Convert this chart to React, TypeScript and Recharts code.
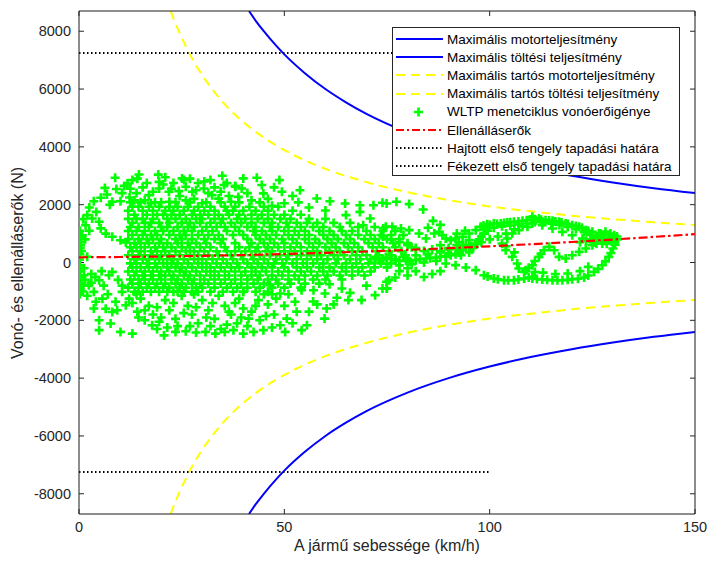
import React from 'react'
import {
  ComposedChart,
  Line,
  Scatter,
  XAxis,
  YAxis,
  CartesianGrid,
} from 'recharts'

// Maximális motorteljesítmény (km/h, N)
const maxMotorSpeed = [41.4, 43, 45, 48, 50, 55, 60, 65, 70, 80, 90, 100, 110, 120, 130, 140, 150]
const maxMotorForce = [8700, 8370, 8000, 7500, 7200, 6550, 6000, 5540, 5140, 4500, 4000, 3600, 3270, 3000, 2770, 2570, 2400]
const maxChargeForce = [-8700, -8370, -8000, -7500, -7200, -6550, -6000, -5540, -5140, -4500, -4000, -3600, -3270, -3000, -2770, -2570, -2400]

// Maximális tartós teljesítmény
const contSpeed = [22.3, 24, 26, 28, 30, 35, 40, 45, 50, 60, 70, 80, 90, 100, 110, 120, 130, 140, 150]
const contMotorForce = [8700, 8100, 7480, 6940, 6480, 5550, 4860, 4320, 3890, 3240, 2780, 2430, 2160, 1940, 1770, 1620, 1500, 1390, 1300]
const contChargeForce = [-8700, -8100, -7480, -6940, -6480, -5550, -4860, -4320, -3890, -3240, -2780, -2430, -2160, -1940, -1770, -1620, -1500, -1390, -1300]

// Ellenálláserők
const resistSpeed = [0, 10, 20, 30, 40, 50, 60, 70, 80, 90, 100, 110, 120, 130, 140, 150]
const resistForce = [180, 190, 207, 230, 258, 294, 334, 381, 435, 495, 560, 632, 710, 794, 885, 980]

// Tapadási határ
const adhesionSpeed = [0, 100]
const adhesionDrive = [7250, 7250]
const adhesionBrake = [-7250, -7250]

// WLTP: induló hurok (v, F)
const wltpStart: [number, number][] = [
  [0.2, 1100], [0.3, 900], [0.2, 700], [0.3, 500], [0.2, 300], [0.1, 100], [0.2, -100], [0.3, -300],
  [0.2, -500], [0.4, -700], [0.3, -900], [0.2, -1100], [0.8, -1000], [2, 1640], [1.6, 1290], [0.8, 945],
  [0.4, 600], [1.2, -440], [2.4, -785], [3.6, -1016], [4.9, -612], [7.3, -440], [8.1, -325], [3.2, 1520],
  [4.9, 1410], [5.3, 1180], [6.5, 1000], [8.1, 890], [10.1, 770], [11.4, 690], [4.1, -1360], [5.7, -1250],
  [8.9, -1360], [3.6, -1590], [8.1, -1710], [7.7, -2110], [4.9, -2000], [4.9, -2340], [10.1, -2400],
  [13, -2460], [9.3, -1650], [11.4, -1480], [10.5, -1016], [12.2, -1250], [14.2, -1700], [2.5, 1900],
  [4.2, 1750], [1, 1500], [1.5, -600], [3, -400], [5.5, -300], [6, -800], [9.5, -600], [10.5, -800],
  [2, 200], [1.2, -200], [6.5, -1600], [7, -1100], [1.5, 800], [2.5, 1100], [0.6, 400], [1, -800],
  [2, -1150], [3, -700], [4, -500], [6.8, 2350], [7.5, 2000], [10.5, 2400],
]

// WLTP: sűrű mag, erőszintenként a sebességek
const wltpCoreRows: [number, number[]][] = [
  [2080, [12.5, 15, 18.5, 20, 23.5, 27, 31, 34.5, 39, 44]],
  [1930, [13, 14.5, 17, 19.5, 22, 24, 26.5, 29, 32, 35.5, 38, 41.5, 45, 48.5]],
  [1790, [12, 15.5, 18, 21, 23, 25.5, 28, 30.5, 33, 36, 37.5, 40, 43, 46, 52]],
  [1650, [13.5, 16.5, 19, 20.5, 22.5, 24.5, 27.5, 29.5, 31.5, 34, 36.5, 39, 42, 44.5, 47.5, 50, 54]],
  [1510, [12, 14, 15.5, 18, 21.5, 23.5, 26, 28.5, 30, 33, 35, 38.5, 40.5, 43.5, 46, 49, 51.5, 56, 60]],
  [1370, [13, 16, 17.5, 19.5, 22, 25, 27, 29.5, 32, 34.5, 37, 39.5, 42, 45, 47, 50.5, 53, 55.5, 58, 62, 66]],
  [1230, [12.5, 14.5, 17, 20, 21.5, 24, 26.5, 28, 31, 33.5, 35.5, 38, 41, 43, 46.5, 48.5, 51, 54, 57, 59.5, 63.5, 68, 72]],
  [1090, [12, 14, 16, 18.5, 20.5, 23, 25.5, 27.5, 30, 32.5, 36, 39, 42.5, 44.5, 47, 50, 52.5, 55, 58.5, 61, 64, 66.5, 70, 74, 77]],
  [950, [13, 15.5, 17.5, 19, 22, 24.5, 26, 29, 31.5, 34, 37.5, 40, 43, 45.5, 48, 51, 53.5, 56, 59.5, 62, 65, 68, 71, 73.5, 76, 79]],
  [810, [12, 14.5, 16.5, 18, 20, 23.5, 25, 27.5, 30.5, 33, 35, 41, 44, 46.5, 49.5, 52, 55, 57.5, 60.5, 63, 66, 69.5, 72, 75, 78]],
  [670, [13.5, 15, 17, 19.5, 21.5, 24, 26.5, 28.5, 31, 34.5, 38, 42, 45, 47.5, 50, 53, 56, 58.5, 61.5, 64.5, 67, 70.5, 73, 76.5, 80]],
  [530, [12.5, 14, 16, 18.5, 20.5, 22.5, 25, 27, 29.5, 32, 35.5, 39, 41.5, 43.5, 46, 48.5, 51.5, 54, 57, 60, 62.5, 65.5, 68, 71.5, 74, 77, 81]],
  [390, [13, 15, 17.5, 19, 21, 23.5, 26, 28, 30.5, 33.5, 36, 38, 40.5, 43, 45.5, 47, 50, 52.5, 55.5, 58, 61, 63.5, 66.5, 69, 72.5, 75.5, 78.5]],
  [250, [12, 14.5, 16, 18, 20, 22, 24.5, 27, 29, 31.5, 34, 37, 39.5, 42, 44, 46.5, 49, 51, 54, 56.5, 59, 62, 64.5, 67.5, 70, 73, 76, 79.5]],
  [110, [13.5, 15.5, 17, 19.5, 21.5, 23, 25.5, 28, 30, 32.5, 35, 37.5, 40, 42.5, 45, 48, 50.5, 53, 55.5, 58, 60.5, 63, 66, 68.5, 71, 74, 77, 80]],
  [-30, [12.5, 14, 16.5, 18.5, 20.5, 22.5, 24, 26.5, 29, 31, 33.5, 36, 38.5, 41, 43.5, 46, 47.5, 49.5, 52, 54.5, 57, 59.5, 62.5, 65, 67.5, 70.5, 73.5, 76]],
  [-170, [13, 15, 17, 19, 21.5, 23.5, 25, 27.5, 30, 32, 34.5, 37, 39, 42, 44.5, 47, 50, 53, 55.5, 58.5, 61, 64, 66.5, 69, 72, 75]],
  [-310, [12, 14, 16, 18, 20, 22, 24.5, 26, 28.5, 31, 33, 35.5, 38, 40.5, 43, 45.5, 48.5, 51, 54, 56.5, 59.5, 62, 65, 68, 71]],
  [-450, [13.5, 15.5, 17.5, 19.5, 21, 23, 25.5, 27, 29.5, 32, 34, 36.5, 39.5, 42, 44, 47, 49.5, 52.5, 55, 58, 60.5, 63.5, 66.5, 69.5]],
  [-590, [12.5, 14.5, 16, 18, 20, 22.5, 24, 26.5, 28, 30.5, 33, 35.5, 38, 41, 43.5, 46, 48, 51, 53.5, 57, 60, 64]],
  [-730, [13, 15, 17, 19, 21, 23.5, 25, 27.5, 29.5, 31.5, 34.5, 37, 39.5, 42.5, 45, 48.5, 51.5, 55, 58.5]],
  [-870, [12, 14.5, 16.5, 18.5, 20.5, 22, 24.5, 26, 28.5, 30, 33, 36, 38.5, 41, 44, 47, 50, 54]],
  [-1010, [13.5, 15.5, 17.5, 19.5, 21.5, 23, 25.5, 27.5, 29, 32, 35, 37.5, 40, 43, 46]],
]

// WLTP: szórt pontok felül
const wltpUpper: [number, number][] = [
  [8.8, 2930], [11.8, 2735], [13, 2850], [14.6, 3046], [14.2, 2900], [19.3, 3040], [19.5, 2790], [25.1, 2910],
  [25.6, 2850], [34.9, 3000], [38.1, 2620], [35.3, 2680], [6.3, 2580], [9.1, 2540], [3.6, 2120], [5.3, 2240],
  [8.1, 2100], [10.1, 2120], [12.3, 2250], [17, 2330], [19.5, 2560], [21.9, 2450], [24.3, 2470], [27.6, 2450],
  [30.4, 2560], [32.4, 2330], [34, 2210], [36.5, 2300], [40, 2910], [43.3, 2930], [38, 2650], [39.6, 2560],
  [38.8, 2270], [44.5, 2680], [44.9, 2390], [48.8, 2850], [49.4, 2450], [53.8, 2500], [53.4, 2080],
  [57.9, 2215], [61.1, 2120], [64.8, 2040], [68.4, 1980], [71.7, 1980], [74.9, 2040], [68.4, 1750],
  [16, 2150], [22, 2100], [28, 2200], [30, 2050], [26, 2620], [29, 2750], [31.5, 2400], [42, 2150],
  [46, 2200], [50, 2050], [15.5, 2600], [18, 2450], [23, 2750], [47, 1960], [56, 1900], [60, 1800],
  [65, 1640], [70.9, 1520], [69.2, 1290], [74.1, 1180], [73.9, 2065], [77.3, 2100], [80.4, 2020],
  [83.8, 1835], [86.2, 1440], [11, 2650], [20.5, 2700], [32, 2850], [36, 2750], [14, 2400], [16.5, 2750],
  [21, 2950], [22.5, 2550], [24.5, 2300], [27, 2900], [28.5, 2500], [30.5, 2800], [33, 2600], [34.5, 2450],
  [37, 2100], [13.5, 2150], [17.5, 2050], [26, 2150], [12.5, 2550], [41, 2400], [47.5, 2600], [52, 2300],
]

// WLTP: szórt pontok alul
const wltpLower: [number, number][] = [
  [17.8, -2170], [19.5, -2050], [20.7, -2520], [23.5, -2400], [26, -2380], [28.5, -2420], [30.8, -2400],
  [33.2, -2460], [35.5, -2400], [37.6, -2340], [40, -2460], [42.5, -2400], [44.9, -2340], [49, -2170],
  [50.2, -2400], [50.6, -1940], [54.2, -2340], [55.5, -2170], [59.8, -1940], [60.3, -1590], [52.6, -1360],
  [54.2, -960], [57.1, -960], [59.9, -1070], [62.8, -1220], [65.6, -1300], [68.8, -1300], [72.1, -1130],
  [74.9, -900], [74.9, -670], [40, -1016], [46.5, -785], [49, -1070], [41.3, -1940], [40, -1590],
  [43.7, -1300], [15, -1250], [17, -1500], [18, -1800], [21, -1300], [22, -1650], [23.5, -1950],
  [25, -1150], [26.5, -1500], [27.5, -1800], [29, -2100], [30, -1300], [31.5, -1650], [33, -1950],
  [34, -1150], [35.5, -1500], [37, -1800], [38.5, -2100], [39, -1250], [16, -2000], [19, -2300],
  [24, -2200], [32, -2200], [36, -2150], [42, -1700], [44, -2000], [46, -1450], [47.5, -1800], [14, -1100],
  [28, -1100], [24, -1000], [48, -1250], [51, -1100], [45, -1100], [77, -520], [75, -900], [73.9, -900],
  [75.5, -610], [53, -1700], [57, -1350], [64, -900], [70, -800], [61, -750], [66, -1050], [78, -300],
  [80, -450], [13, -1400], [14.5, -1900], [16, -1650], [19, -1550], [20, -1900], [21.5, -2250], [23, -1400],
  [25.5, -1750], [27, -2200], [28.5, -1550], [31, -1900], [32.5, -1400], [34.5, -2300], [36.5, -1700],
  [38, -1400], [39.5, -1900], [41, -2200], [43, -1500], [45.5, -1850], [47, -2250], [52, -2100],
  [56, -1700], [58, -1450], [62, -1450], [47, -1100], [50, -1500],
]

// WLTP: extra magas szakasz hurkai
const wltpExtraHigh: [number, number][] = [
  [74.7, 1234], [76.3, 1240], [78.4, 1177], [80.4, 1119], [82.8, 1004], [84.5, 830], [86.5, 1004],
  [87.7, 1061], [88.5, 946], [89.3, 830], [90.5, 773], [91.7, 830], [93.4, 888], [95, 1004], [96.6, 1119],
  [97.8, 1234], [99.4, 1327], [101, 1350], [102.7, 1350], [104.3, 1380], [105.9, 1408], [108, 1442],
  [110, 1488], [110.4, 1580], [112, 1522], [113.6, 1465], [115.3, 1442], [116.9, 1407], [118.5, 1350],
  [120.1, 1292], [121.8, 1234], [123.4, 1119], [125, 1061], [126.6, 1003], [128.2, 1061], [129.4, 1000],
  [130.3, 945], [110.4, 1350], [112.8, 1292], [115.3, 1176], [117.7, 1061], [120.1, 945], [122.6, 830],
  [125, 714], [127.4, 657], [129, 830], [108, 1250], [106, 1150], [104, 1000], [102, 900], [100, 800],
  [98, 700], [72.3, 196], [74.7, 173], [77.1, 81], [79.6, 57], [82, 81], [84.5, 138], [86.9, 173],
  [89.3, 219], [91.7, 288], [93.4, 427], [94.2, 600], [95, 773], [72, 0], [75, -50], [78, -100],
  [81, -60], [84, 0], [87, 50], [89.3, -35], [91.7, -92], [94.2, -173], [96.6, -265], [98.6, -439],
  [101, -554], [103.5, -612], [105.9, -612], [108.4, -554], [110.4, -496], [103, 657], [104.3, 830],
  [105.5, 1004], [107.1, 1119], [109.2, 1234], [103.9, 427], [105.5, 196], [106.7, -35], [107.1, -208],
  [108.4, -323], [108.8, -266], [110.4, -93], [112, 195], [113.2, 426], [114.5, 542], [115.7, 426],
  [116.9, 195], [118.5, 138], [120.1, 253], [121.8, 368], [123.4, 484], [125, 599], [110.4, -555],
  [112.8, -590], [115.3, -612], [117.7, -612], [120.1, -578], [123, -520], [125.4, -324], [127.4, -93],
  [129, 195], [130, 484], [130.3, 772], [111, -330], [113, -350], [116, -400], [119, -380], [122, -300],
  [124, -150], [126, 850], [127, 900], [128, 750], [129, 950], [130, 850], [131, 900], [128.5, 650],
  [127, 1000], [88, 600], [90, 500], [92, 600], [86, 450], [84, 400], [82, 500], [80, 600], [78, 700],
  [76, 800], [74, 900], [88, 350], [90, 300], [92, 1000], [94, 1100], [93, 250], [95, 350], [96, 500],
  [97, 650], [98, 900], [86, -400], [88, -300], [84, -500], [82, -300], [80, -200], [85, 1200], [88, 1300],
  [98.5, 1280], [100, 1300], [101.8, 1330], [103.5, 1370], [105, 1390], [107, 1420], [109, 1460],
  [111, 1500], [112.5, 1480], [114.5, 1450], [116, 1420], [117.5, 1380], [119, 1330], [121, 1260],
  [122.5, 1200], [124, 1100], [99, 1150], [101, 1200], [103, 1250], [105, 1280], [107, 1320], [109, 1350],
  [111, 1400], [113, 1390], [115, 1350], [117, 1300], [119, 1230], [121, 1150], [123, 1050], [124.5, 950],
  [126, 900], [127.8, 950], [92.5, 700], [93.5, 600], [95.5, 550], [96.5, 650], [97.5, 800], [98.5, 1000],
  [99.5, 1100], [73, 150], [76, 120], [78, 60], [80.5, 40], [83, 110], [85.5, 150], [88, 200], [90.5, 250],
  [92.5, 350], [76, 250], [79, 200], [82, 250], [85, 300], [88, 400], [90, 450], [92, 480], [99.5, -480],
  [102, -580], [104.5, -615], [107, -590], [109.5, -520], [111.5, -570], [114, -600], [116.5, -615],
  [119, -600], [121.5, -560], [124, -450], [126.4, -220], [128.2, 40], [129.5, 330], [130.5, 620],
  [122, 700], [123.5, 750], [124.5, 800], [125.5, 700], [127, 800], [128, 850], [129.5, 750], [130.5, 700],
  [131, 800], [126, 650], [128, 950], [104, 560], [106, 350], [109.5, -180], [111, 50], [112.5, 300],
]

const toPoints = (xs: number[], ys: number[]) => xs.map((v, i) => ({ v, f: ys[i] }))

const maxMotor = toPoints(maxMotorSpeed, maxMotorForce)
const maxCharge = toPoints(maxMotorSpeed, maxChargeForce)
const contMotor = toPoints(contSpeed, contMotorForce)
const contCharge = toPoints(contSpeed, contChargeForce)
const resistance = toPoints(resistSpeed, resistForce)
const driveLimit = toPoints(adhesionSpeed, adhesionDrive)
const brakeLimit = toPoints(adhesionSpeed, adhesionBrake)

const wltp = [
  ...wltpStart,
  ...wltpCoreRows.flatMap(([f, vs]) => vs.map((v) => [v, f] as [number, number])),
  ...wltpUpper,
  ...wltpLower,
  ...wltpExtraHigh,
].map(([v, f]) => ({ v, f }))

const yTicks = [-8000, -6000, -4000, -2000, 0, 2000, 4000, 6000, 8000]
const xTicks = [0, 50, 100, 150]

const AXIS = '#262626'
const FONT = '"Liberation Sans", Arial, Helvetica, sans-serif'

const PlusMark = (props: any) => {
  const { cx, cy } = props
  if (cx == null || cy == null) return null
  return (
    <path
      d={`M${cx - 4.5},${cy}h9M${cx},${cy - 4.5}v9`}
      stroke="#00ff00"
      strokeWidth={2.6}
      fill="none"
    />
  )
}

const NoMark = () => <g />

const legendItems = [
  { label: 'Maximális motorteljesítmény', color: '#0000ff', dash: undefined },
  { label: 'Maximális töltési teljesítmény', color: '#0000ff', dash: undefined },
  { label: 'Maximális tartós motorteljesítmény', color: '#ffff00', dash: '9 6' },
  { label: 'Maximális tartós töltési teljesítmény', color: '#ffff00', dash: '9 6' },
  { label: 'WLTP menetciklus vonóerőigénye', color: '#00ff00', dash: 'plus' },
  { label: 'Ellenálláserők', color: '#ff0000', dash: '8 3 2 3' },
  { label: 'Hajtott első tengely tapadási határa', color: '#000000', dash: '1.5 2.5' },
  { label: 'Fékezett első tengely tapadási határa', color: '#000000', dash: '1.5 2.5' },
]

function ChartLegend() {
  return (
    <div
      style={{
        position: 'absolute',
        left: 392,
        top: 27,
        width: 288,
        height: 149,
        background: '#fff',
        border: `1px solid ${AXIS}`,
        boxSizing: 'border-box',
        paddingTop: 2,
      }}
    >
      {legendItems.map((it) => (
        <div key={it.label} style={{ display: 'flex', alignItems: 'center', height: 18.2 }}>
          <svg width={52} height={18} style={{ flex: 'none' }}>
            {it.dash === 'plus' ? (
              <path d="M21,9h9M25.5,4.5v9" stroke={it.color} strokeWidth={2.6} />
            ) : (
              <line
                x1={3}
                x2={50}
                y1={9}
                y2={9}
                stroke={it.color}
                strokeWidth={2}
                strokeDasharray={it.dash}
              />
            )}
          </svg>
          <span style={{ fontSize: 13.5, color: '#000', whiteSpace: 'nowrap', marginLeft: 2 }}>
            {it.label}
          </span>
        </div>
      ))}
    </div>
  )
}

export default function App() {
  return (
    <div
      style={{
        position: 'absolute',
        left: 0,
        top: 0,
        width: 708,
        height: 563,
        background: '#fff',
        fontFamily: FONT,
      }}
    >
      <ComposedChart width={708} height={563} margin={{ top: 0, right: 0, left: 0, bottom: 0 }}>
        <CartesianGrid stroke="#e6e6e6" strokeWidth={1} />
        <XAxis
          xAxisId="b"
          type="number"
          dataKey="v"
          domain={[0, 150]}
          ticks={xTicks}
          allowDataOverflow
          height={49}
          stroke={AXIS}
          tickSize={-5}
          tickMargin={13}
          tick={{ fill: AXIS, fontSize: 14.5, fontFamily: FONT }}
        />
        <XAxis
          xAxisId="t"
          orientation="top"
          type="number"
          dataKey="v"
          domain={[0, 150]}
          ticks={xTicks}
          allowDataOverflow
          height={11}
          stroke={AXIS}
          tickSize={-5}
          tickFormatter={() => ''}
        />
        <YAxis
          yAxisId="l"
          type="number"
          dataKey="f"
          domain={[-8700, 8700]}
          ticks={yTicks}
          allowDataOverflow
          width={79}
          stroke={AXIS}
          tickSize={-5}
          tickMargin={13}
          tick={{ fill: AXIS, fontSize: 14.5, fontFamily: FONT }}
        />
        <YAxis
          yAxisId="r"
          orientation="right"
          type="number"
          dataKey="f"
          domain={[-8700, 8700]}
          ticks={yTicks}
          allowDataOverflow
          width={13}
          stroke={AXIS}
          tickSize={-5}
          tickFormatter={() => ''}
        />
        <Line xAxisId="b" yAxisId="l" data={maxMotor} dataKey="f" type="monotone" stroke="#0000ff" strokeWidth={2} dot={false} isAnimationActive={false} />
        <Line xAxisId="b" yAxisId="l" data={maxCharge} dataKey="f" type="monotone" stroke="#0000ff" strokeWidth={2} dot={false} isAnimationActive={false} />
        <Line xAxisId="b" yAxisId="l" data={contMotor} dataKey="f" type="monotone" stroke="#ffff00" strokeWidth={2} strokeDasharray="9 6" dot={false} isAnimationActive={false} />
        <Line xAxisId="b" yAxisId="l" data={contCharge} dataKey="f" type="monotone" stroke="#ffff00" strokeWidth={2} strokeDasharray="9 6" dot={false} isAnimationActive={false} />
        <Line xAxisId="b" yAxisId="l" data={driveLimit} dataKey="f" type="linear" stroke="#000000" strokeWidth={2} strokeDasharray="1.5 2.5" dot={false} isAnimationActive={false} />
        <Line xAxisId="b" yAxisId="l" data={brakeLimit} dataKey="f" type="linear" stroke="#000000" strokeWidth={2} strokeDasharray="1.5 2.5" dot={false} isAnimationActive={false} />
        <Scatter xAxisId="b" yAxisId="l" data={wltp} dataKey="f" shape={PlusMark} isAnimationActive={false} />
        {/* ellenállás a pontfelhő fölött */}
        <Scatter
          xAxisId="b"
          yAxisId="l"
          data={resistance}
          dataKey="f"
          shape={NoMark}
          line={{ stroke: '#ff0000', strokeWidth: 2.2, strokeDasharray: '9 3 2.5 3' }}
          isAnimationActive={false}
        />
      </ComposedChart>
      <ChartLegend />
      <div
        style={{
          position: 'absolute',
          left: 79,
          width: 616,
          top: 537,
          textAlign: 'center',
          fontSize: 16,
          color: AXIS,
        }}
      >
        A jármű sebessége (km/h)
      </div>
      <div
        style={{
          position: 'absolute',
          left: 18,
          top: 263,
          transform: 'translate(-50%, -50%) rotate(-90deg)',
          fontSize: 16,
          color: AXIS,
          whiteSpace: 'nowrap',
        }}
      >
        Vonó- és ellenálláserők (N)
      </div>
    </div>
  )
}
